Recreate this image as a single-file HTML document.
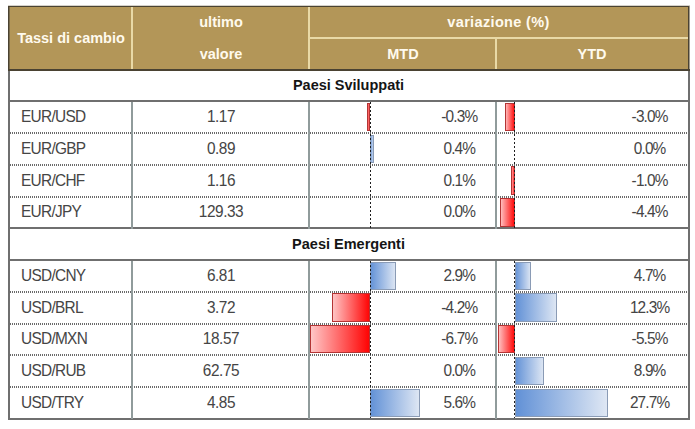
<!DOCTYPE html>
<html><head><meta charset="utf-8"><style>
html,body{margin:0;padding:0;background:#fff;width:695px;height:429px;overflow:hidden}
body{position:relative;font-family:"Liberation Sans",sans-serif}
div{position:absolute;box-sizing:border-box}
.t{white-space:nowrap}
</style></head><body>
<div style="left:8px;top:6px;width:682px;height:65px;background:#b39658"></div>
<div style="left:8px;top:6px;width:682px;height:1px;background:#4a4232"></div>
<div style="left:8px;top:5px;width:682px;height:1px;background:#d6d2ca"></div>
<div style="left:8px;top:6px;width:1px;height:65px;background:#4a4232"></div>
<div style="left:9px;top:7px;width:1px;height:62px;background:#7a6c4c"></div>
<div style="left:688px;top:6px;width:1px;height:65px;background:#4a4232"></div>
<div style="left:689px;top:6px;width:1px;height:65px;background:#a09a8c"></div>
<div style="left:8px;top:69px;width:682px;height:2px;background:#4a4232"></div>
<div style="left:131px;top:7px;width:2px;height:62px;background:#e9d9a6"></div>
<div style="left:308px;top:7px;width:2px;height:62px;background:#e9d9a6"></div>
<div style="left:495px;top:39px;width:2px;height:30px;background:#e9d9a6"></div>
<div style="left:310px;top:37px;width:378px;height:2px;background:#e9d9a6"></div>
<div class="t" style="left:10px;top:6px;width:122px;height:64px;line-height:64px;color:#fffaee;font-weight:bold;font-size:14.5px;text-align:center;">Tassi di cambio</div>
<div class="t" style="left:133px;top:6px;width:176px;height:32px;line-height:32px;color:#fffaee;font-weight:bold;font-size:14.5px;text-align:center;">ultimo</div>
<div class="t" style="left:133px;top:38px;width:176px;height:32px;line-height:32px;color:#fffaee;font-weight:bold;font-size:14.5px;text-align:center;">valore</div>
<div class="t" style="left:310px;top:6px;width:377px;height:32px;line-height:32px;color:#fffaee;font-weight:bold;font-size:14.5px;text-align:center;letter-spacing:0.35px;">variazione (%)</div>
<div class="t" style="left:310px;top:38px;width:186px;height:32px;line-height:32px;color:#fffaee;font-weight:bold;font-size:14.5px;text-align:center;">MTD</div>
<div class="t" style="left:497px;top:38px;width:190px;height:32px;line-height:32px;color:#fffaee;font-weight:bold;font-size:14.5px;text-align:center;">YTD</div>
<div style="left:8px;top:71px;width:2px;height:348px;background:#6f6f6f"></div>
<div style="left:688px;top:71px;width:2px;height:349px;background:#6f6f6f"></div>
<div style="left:8px;top:418px;width:682px;height:2px;background:#6f6f6f"></div>
<div style="left:8px;top:100px;width:682px;height:2px;background:#6f6f6f"></div>
<div style="left:8px;top:227px;width:682px;height:2px;background:#6f6f6f"></div>
<div style="left:8px;top:259px;width:682px;height:2px;background:#6f6f6f"></div>
<div class="t" style="left:10px;top:71px;width:677px;height:29px;line-height:29px;color:#151515;font-weight:bold;font-size:14.5px;text-align:center;">Paesi Sviluppati</div>
<div class="t" style="left:21px;top:101px;width:110px;height:32px;line-height:32px;color:#454545;font-size:15.4px;letter-spacing:-0.45px;transform:scaleY(1.03);transform-origin:50% 20.8px;letter-spacing:-0.7px;">EUR/USD</div>
<div class="t" style="left:133px;top:101px;width:176px;height:32px;line-height:32px;color:#454545;font-size:15.4px;letter-spacing:-0.45px;transform:scaleY(1.03);transform-origin:50% 20.8px;text-align:center;">1.17</div>
<div style="left:367px;top:103px;width:3px;height:28px;background:linear-gradient(90deg,#ffcaca,#ff0000);box-shadow:inset 0 0 0 1px #b43434"></div>
<div style="left:505.2px;top:103px;width:9.8px;height:28px;background:linear-gradient(90deg,#ffcaca,#ff0000);box-shadow:inset 0 0 0 1px #b43434"></div>
<div class="t" style="left:399.3px;top:101px;width:120px;height:32px;line-height:32px;color:#454545;font-size:15.4px;letter-spacing:-0.45px;transform:scaleY(1.03);transform-origin:50% 20.8px;text-align:center;letter-spacing:-0.85px;">-0.3%</div>
<div class="t" style="left:589.6px;top:101px;width:120px;height:32px;line-height:32px;color:#454545;font-size:15.4px;letter-spacing:-0.45px;transform:scaleY(1.03);transform-origin:50% 20.8px;text-align:center;letter-spacing:-0.85px;">-3.0%</div>
<div style="left:10px;top:132px;width:678px;height:2px;background-image:linear-gradient(90deg,#6a6a6a 50%,transparent 50%);background-size:2px 2px"></div>
<div class="t" style="left:21px;top:133px;width:110px;height:32px;line-height:32px;color:#454545;font-size:15.4px;letter-spacing:-0.45px;transform:scaleY(1.03);transform-origin:50% 20.8px;letter-spacing:-0.7px;">EUR/GBP</div>
<div class="t" style="left:133px;top:133px;width:176px;height:32px;line-height:32px;color:#454545;font-size:15.4px;letter-spacing:-0.45px;transform:scaleY(1.03);transform-origin:50% 20.8px;text-align:center;">0.89</div>
<div style="left:370px;top:135px;width:3.6px;height:28px;background:linear-gradient(90deg,#6090d6,#e0e8f4);box-shadow:inset 0 0 0 1px #8a9bb5"></div>
<div class="t" style="left:399.3px;top:133px;width:120px;height:32px;line-height:32px;color:#454545;font-size:15.4px;letter-spacing:-0.45px;transform:scaleY(1.03);transform-origin:50% 20.8px;text-align:center;letter-spacing:-0.85px;">0.4%</div>
<div class="t" style="left:589.6px;top:133px;width:120px;height:32px;line-height:32px;color:#454545;font-size:15.4px;letter-spacing:-0.45px;transform:scaleY(1.03);transform-origin:50% 20.8px;text-align:center;letter-spacing:-0.85px;">0.0%</div>
<div style="left:10px;top:164px;width:678px;height:2px;background-image:linear-gradient(90deg,#6a6a6a 50%,transparent 50%);background-size:2px 2px"></div>
<div class="t" style="left:21px;top:165px;width:110px;height:31px;line-height:31px;color:#454545;font-size:15.4px;letter-spacing:-0.45px;transform:scaleY(1.03);transform-origin:50% 20.8px;letter-spacing:-0.7px;">EUR/CHF</div>
<div class="t" style="left:133px;top:165px;width:176px;height:31px;line-height:31px;color:#454545;font-size:15.4px;letter-spacing:-0.45px;transform:scaleY(1.03);transform-origin:50% 20.8px;text-align:center;">1.16</div>
<div style="left:510.8px;top:166px;width:4.2px;height:29px;background:linear-gradient(90deg,#ffcaca,#ff0000);box-shadow:inset 0 0 0 1px #b43434"></div>
<div class="t" style="left:399.3px;top:165px;width:120px;height:31px;line-height:31px;color:#454545;font-size:15.4px;letter-spacing:-0.45px;transform:scaleY(1.03);transform-origin:50% 20.8px;text-align:center;letter-spacing:-0.85px;">0.1%</div>
<div class="t" style="left:589.6px;top:165px;width:120px;height:31px;line-height:31px;color:#454545;font-size:15.4px;letter-spacing:-0.45px;transform:scaleY(1.03);transform-origin:50% 20.8px;text-align:center;letter-spacing:-0.85px;">-1.0%</div>
<div style="left:10px;top:196px;width:678px;height:2px;background-image:linear-gradient(90deg,#6a6a6a 50%,transparent 50%);background-size:2px 2px"></div>
<div class="t" style="left:21px;top:196px;width:110px;height:32px;line-height:32px;color:#454545;font-size:15.4px;letter-spacing:-0.45px;transform:scaleY(1.03);transform-origin:50% 20.8px;letter-spacing:-0.7px;">EUR/JPY</div>
<div class="t" style="left:133px;top:196px;width:176px;height:32px;line-height:32px;color:#454545;font-size:15.4px;letter-spacing:-0.45px;transform:scaleY(1.03);transform-origin:50% 20.8px;text-align:center;">129.33</div>
<div style="left:500.4px;top:198px;width:14.6px;height:29px;background:linear-gradient(90deg,#ffcaca,#ff0000);box-shadow:inset 0 0 0 1px #b43434"></div>
<div class="t" style="left:399.3px;top:196px;width:120px;height:32px;line-height:32px;color:#454545;font-size:15.4px;letter-spacing:-0.45px;transform:scaleY(1.03);transform-origin:50% 20.8px;text-align:center;letter-spacing:-0.85px;">0.0%</div>
<div class="t" style="left:589.6px;top:196px;width:120px;height:32px;line-height:32px;color:#454545;font-size:15.4px;letter-spacing:-0.45px;transform:scaleY(1.03);transform-origin:50% 20.8px;text-align:center;letter-spacing:-0.85px;">-4.4%</div>
<div style="left:131px;top:102px;width:2px;height:127px;background:#909b9b"></div>
<div style="left:308px;top:102px;width:2px;height:127px;background:#909b9b"></div>
<div style="left:495px;top:102px;width:2px;height:127px;background:#909b9b"></div>
<div style="left:370px;top:102px;width:1px;height:126px;background-image:linear-gradient(180deg,#1e1e1e 50%,transparent 50%);background-size:1px 4px"></div>
<div style="left:514px;top:102px;width:1px;height:126px;background-image:linear-gradient(180deg,#1e1e1e 50%,transparent 50%);background-size:1px 4px"></div>
<div class="t" style="left:10px;top:229px;width:677px;height:30px;line-height:30px;color:#151515;font-weight:bold;font-size:14.5px;text-align:center;">Paesi Emergenti</div>
<div class="t" style="left:21px;top:260px;width:110px;height:32px;line-height:32px;color:#454545;font-size:15.4px;letter-spacing:-0.45px;transform:scaleY(1.03);transform-origin:50% 20.8px;letter-spacing:-0.7px;">USD/CNY</div>
<div class="t" style="left:133px;top:260px;width:176px;height:32px;line-height:32px;color:#454545;font-size:15.4px;letter-spacing:-0.45px;transform:scaleY(1.03);transform-origin:50% 20.8px;text-align:center;">6.81</div>
<div style="left:370px;top:262px;width:26px;height:28px;background:linear-gradient(90deg,#6090d6,#e0e8f4);box-shadow:inset 0 0 0 1px #8a9bb5"></div>
<div style="left:515px;top:262px;width:15.8px;height:28px;background:linear-gradient(90deg,#6090d6,#e0e8f4);box-shadow:inset 0 0 0 1px #8a9bb5"></div>
<div class="t" style="left:399.3px;top:260px;width:120px;height:32px;line-height:32px;color:#454545;font-size:15.4px;letter-spacing:-0.45px;transform:scaleY(1.03);transform-origin:50% 20.8px;text-align:center;letter-spacing:-0.85px;">2.9%</div>
<div class="t" style="left:589.6px;top:260px;width:120px;height:32px;line-height:32px;color:#454545;font-size:15.4px;letter-spacing:-0.45px;transform:scaleY(1.03);transform-origin:50% 20.8px;text-align:center;letter-spacing:-0.85px;">4.7%</div>
<div style="left:10px;top:291px;width:678px;height:2px;background-image:linear-gradient(90deg,#6a6a6a 50%,transparent 50%);background-size:2px 2px"></div>
<div class="t" style="left:21px;top:292px;width:110px;height:31px;line-height:31px;color:#454545;font-size:15.4px;letter-spacing:-0.45px;transform:scaleY(1.03);transform-origin:50% 20.8px;letter-spacing:-0.7px;">USD/BRL</div>
<div class="t" style="left:133px;top:292px;width:176px;height:31px;line-height:31px;color:#454545;font-size:15.4px;letter-spacing:-0.45px;transform:scaleY(1.03);transform-origin:50% 20.8px;text-align:center;">3.72</div>
<div style="left:332.3px;top:293px;width:37.7px;height:29px;background:linear-gradient(90deg,#ffcaca,#ff0000);box-shadow:inset 0 0 0 1px #b43434"></div>
<div style="left:515px;top:293px;width:41.8px;height:29px;background:linear-gradient(90deg,#6090d6,#e0e8f4);box-shadow:inset 0 0 0 1px #8a9bb5"></div>
<div class="t" style="left:399.3px;top:292px;width:120px;height:31px;line-height:31px;color:#454545;font-size:15.4px;letter-spacing:-0.45px;transform:scaleY(1.03);transform-origin:50% 20.8px;text-align:center;letter-spacing:-0.85px;">-4.2%</div>
<div class="t" style="left:589.6px;top:292px;width:120px;height:31px;line-height:31px;color:#454545;font-size:15.4px;letter-spacing:-0.45px;transform:scaleY(1.03);transform-origin:50% 20.8px;text-align:center;letter-spacing:-0.85px;">12.3%</div>
<div style="left:10px;top:323px;width:678px;height:2px;background-image:linear-gradient(90deg,#6a6a6a 50%,transparent 50%);background-size:2px 2px"></div>
<div class="t" style="left:21px;top:323px;width:110px;height:32px;line-height:32px;color:#454545;font-size:15.4px;letter-spacing:-0.45px;transform:scaleY(1.03);transform-origin:50% 20.8px;letter-spacing:-0.7px;">USD/MXN</div>
<div class="t" style="left:133px;top:323px;width:176px;height:32px;line-height:32px;color:#454545;font-size:15.4px;letter-spacing:-0.45px;transform:scaleY(1.03);transform-origin:50% 20.8px;text-align:center;">18.57</div>
<div style="left:310.2px;top:325px;width:59.8px;height:28px;background:linear-gradient(90deg,#ffcaca,#ff0000);box-shadow:inset 0 0 0 1px #b43434"></div>
<div style="left:497.9px;top:325px;width:17.1px;height:28px;background:linear-gradient(90deg,#ffcaca,#ff0000);box-shadow:inset 0 0 0 1px #b43434"></div>
<div class="t" style="left:399.3px;top:323px;width:120px;height:32px;line-height:32px;color:#454545;font-size:15.4px;letter-spacing:-0.45px;transform:scaleY(1.03);transform-origin:50% 20.8px;text-align:center;letter-spacing:-0.85px;">-6.7%</div>
<div class="t" style="left:589.6px;top:323px;width:120px;height:32px;line-height:32px;color:#454545;font-size:15.4px;letter-spacing:-0.45px;transform:scaleY(1.03);transform-origin:50% 20.8px;text-align:center;letter-spacing:-0.85px;">-5.5%</div>
<div style="left:10px;top:354px;width:678px;height:2px;background-image:linear-gradient(90deg,#6a6a6a 50%,transparent 50%);background-size:2px 2px"></div>
<div class="t" style="left:21px;top:355px;width:110px;height:32px;line-height:32px;color:#454545;font-size:15.4px;letter-spacing:-0.45px;transform:scaleY(1.03);transform-origin:50% 20.8px;letter-spacing:-0.7px;">USD/RUB</div>
<div class="t" style="left:133px;top:355px;width:176px;height:32px;line-height:32px;color:#454545;font-size:15.4px;letter-spacing:-0.45px;transform:scaleY(1.03);transform-origin:50% 20.8px;text-align:center;">62.75</div>
<div style="left:515px;top:357px;width:28.8px;height:28px;background:linear-gradient(90deg,#6090d6,#e0e8f4);box-shadow:inset 0 0 0 1px #8a9bb5"></div>
<div class="t" style="left:399.3px;top:355px;width:120px;height:32px;line-height:32px;color:#454545;font-size:15.4px;letter-spacing:-0.45px;transform:scaleY(1.03);transform-origin:50% 20.8px;text-align:center;letter-spacing:-0.85px;">0.0%</div>
<div class="t" style="left:589.6px;top:355px;width:120px;height:32px;line-height:32px;color:#454545;font-size:15.4px;letter-spacing:-0.45px;transform:scaleY(1.03);transform-origin:50% 20.8px;text-align:center;letter-spacing:-0.85px;">8.9%</div>
<div style="left:10px;top:386px;width:678px;height:2px;background-image:linear-gradient(90deg,#6a6a6a 50%,transparent 50%);background-size:2px 2px"></div>
<div class="t" style="left:21px;top:387px;width:110px;height:31px;line-height:31px;color:#454545;font-size:15.4px;letter-spacing:-0.45px;transform:scaleY(1.03);transform-origin:50% 20.8px;letter-spacing:-0.7px;">USD/TRY</div>
<div class="t" style="left:133px;top:387px;width:176px;height:31px;line-height:31px;color:#454545;font-size:15.4px;letter-spacing:-0.45px;transform:scaleY(1.03);transform-origin:50% 20.8px;text-align:center;">4.85</div>
<div style="left:370px;top:389px;width:50.2px;height:28px;background:linear-gradient(90deg,#6090d6,#e0e8f4);box-shadow:inset 0 0 0 1px #8a9bb5"></div>
<div style="left:515px;top:389px;width:93.3px;height:28px;background:linear-gradient(90deg,#6090d6,#e0e8f4);box-shadow:inset 0 0 0 1px #8a9bb5"></div>
<div class="t" style="left:399.3px;top:387px;width:120px;height:31px;line-height:31px;color:#454545;font-size:15.4px;letter-spacing:-0.45px;transform:scaleY(1.03);transform-origin:50% 20.8px;text-align:center;letter-spacing:-0.85px;">5.6%</div>
<div class="t" style="left:589.6px;top:387px;width:120px;height:31px;line-height:31px;color:#454545;font-size:15.4px;letter-spacing:-0.45px;transform:scaleY(1.03);transform-origin:50% 20.8px;text-align:center;letter-spacing:-0.85px;">27.7%</div>
<div style="left:131px;top:261px;width:2px;height:158px;background:#909b9b"></div>
<div style="left:308px;top:261px;width:2px;height:158px;background:#909b9b"></div>
<div style="left:495px;top:261px;width:2px;height:158px;background:#909b9b"></div>
<div style="left:370px;top:261px;width:1px;height:157px;background-image:linear-gradient(180deg,#1e1e1e 50%,transparent 50%);background-size:1px 4px"></div>
<div style="left:514px;top:261px;width:1px;height:157px;background-image:linear-gradient(180deg,#1e1e1e 50%,transparent 50%);background-size:1px 4px"></div>
</body></html>
